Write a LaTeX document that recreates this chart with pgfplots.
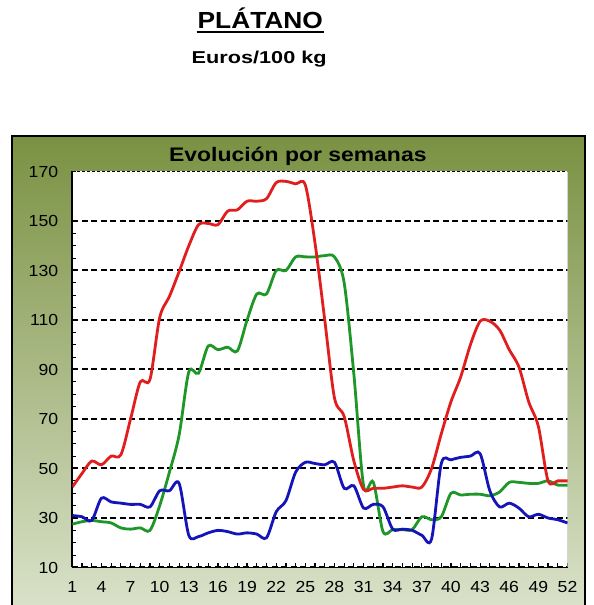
\documentclass[border=0pt]{standalone}
\usepackage{pgfplots}
\pgfplotsset{compat=1.18}
\usepackage{fontspec}
\setmainfont{Liberation Sans}
\newfontfamily\tickfont[FakeStretch=1.1]{Liberation Sans}
\newfontfamily\titlefont[FakeStretch=1.17]{Liberation Sans}
\newfontfamily\headfont[FakeStretch=1.13]{Liberation Sans}
\newfontfamily\unitfont[FakeStretch=1.26]{Liberation Sans}

\definecolor{cred}{RGB}{225,30,30}
\definecolor{cgreen}{RGB}{30,150,40}
\definecolor{cblue}{RGB}{20,20,185}
\definecolor{frametop}{RGB}{122,145,66}
\definecolor{framebot}{RGB}{218,226,202}

% semana / precio (euros por 100 kg)
\pgfplotstableread{
w v
1 42.5
2 48
3 53
4 51.5
5 55
6 55.5
7 70
8 85
9 86
10 111
11 119.5
12 129.5
13 140
14 148.5
15 149
16 148.5
17 154
18 154.5
19 158
20 158
21 159
22 165.5
23 166
24 165
25 164.5
26 141
27 110
28 78.5
29 71
30 53
31 41.5
32 42
33 42
34 42.5
35 43
36 42.5
37 42.5
38 50
39 64
40 77
41 87
42 100
43 109.5
44 109.5
45 106
46 98
47 91
48 77
49 67
50 45
51 45
52 45
}\red

\pgfplotstableread{
w v
1 27.5
2 28.5
3 29
4 28.5
5 28
6 26
7 25.5
8 26
9 25
10 35
11 48.5
12 63.5
13 89
14 88.5
15 99.5
16 98
17 99
18 97.5
19 110
20 120.5
21 120.5
22 130
23 130
24 135.5
25 135.5
26 135.5
27 136
28 135.5
29 125
30 88
31 43
32 44.5
33 24.5
34 25.3
35 25.3
36 25.3
37 30.5
38 29.3
39 30.5
40 40
41 39.3
42 39.6
43 39.6
44 39
45 40.5
46 44.4
47 44.4
48 44
49 44
50 45
51 43.3
52 43.3
}\green

\pgfplotstableread{
w v
1 31
2 30.5
3 29
4 38
5 36.5
6 36
7 35.5
8 35.5
9 34.5
10 41
11 41
12 44
13 23
14 22.5
15 24
16 25
17 24.5
18 23.5
19 24
20 23.5
21 22
22 32.5
23 37
24 48.5
25 52.5
26 52
27 51.5
28 52.5
29 42
30 43
31 34
32 35.5
33 34.5
34 25.5
35 25.5
36 25
37 23
38 21.5
39 52
40 53.5
41 54.5
42 55
43 56
44 41
45 34.5
46 36
47 34
48 30.5
49 31.5
50 30
51 29.3
52 28
}\blue

\begin{document}
\begin{tikzpicture}[x=1pt,y=1pt]
\useasboundingbox (0,0) rectangle (594,605);

% cabecera
\node[anchor=base, inner sep=0pt, font=\fontsize{23.3}{24}\headfont\bfseries] at (260.3,576.7) {PLÁTANO};
\draw[line width=2.3pt] (196.7,573) -- (324,573);
\node[anchor=base, inner sep=0pt, font=\fontsize{17.2}{18}\unitfont\bfseries] at (259.2,541) {Euros/100 kg};

% marco verde
\shade[top color=frametop, bottom color=framebot] (12,-5) rectangle (585,469);
\draw[line width=2.5pt] (12,-5) rectangle (585,469);
\node[anchor=base, inner sep=0pt, font=\fontsize{19.6}{20}\titlefont\bfseries] at (297.8,443.3) {Evolución por semanas};

\begin{axis}[
    at={(72.3pt,37.5pt)}, anchor=south west,
    scale only axis, width=495.2pt, height=396pt,
    xmin=1, xmax=52, ymin=10, ymax=170,
    axis background/.style={fill=white},
    axis x line=bottom, axis y line=left,
    axis line style={-, black, line width=1.8pt},
    xtick={1,4,...,52}, minor x tick num=2,
    ytick={10,30,...,150}, minor y tick num=3,
    extra y ticks={170},
    extra y tick style={grid style={black, line width=1pt, dash pattern=on 3pt off 2pt}},
    ymajorgrids,
    grid style={black, line width=2pt, dash pattern=on 6pt off 3.5pt},
    tick align=inside, major tick length=4pt, minor tick length=4pt,
    every tick/.style={black, line width=1.2pt},
    /pgf/number format/assume math mode=true,
    tick label style={font=\fontsize{16}{16}\tickfont, text=black},
    yticklabel style={inner sep=0pt, xshift=-14pt},
    xticklabel style={inner sep=0pt, yshift=-14pt},
    every axis plot/.append style={smooth, line width=2.8pt, no markers},
]
\draw[gray!50, line width=0.6pt] (rel axis cs:1,0) -- (rel axis cs:1,1);
\addplot[cgreen] table[x=w, y=v] {\green};
\addplot[cred] table[x=w, y=v] {\red};
\addplot[cblue] table[x=w, y=v] {\blue};
\end{axis}
\end{tikzpicture}
\end{document}
